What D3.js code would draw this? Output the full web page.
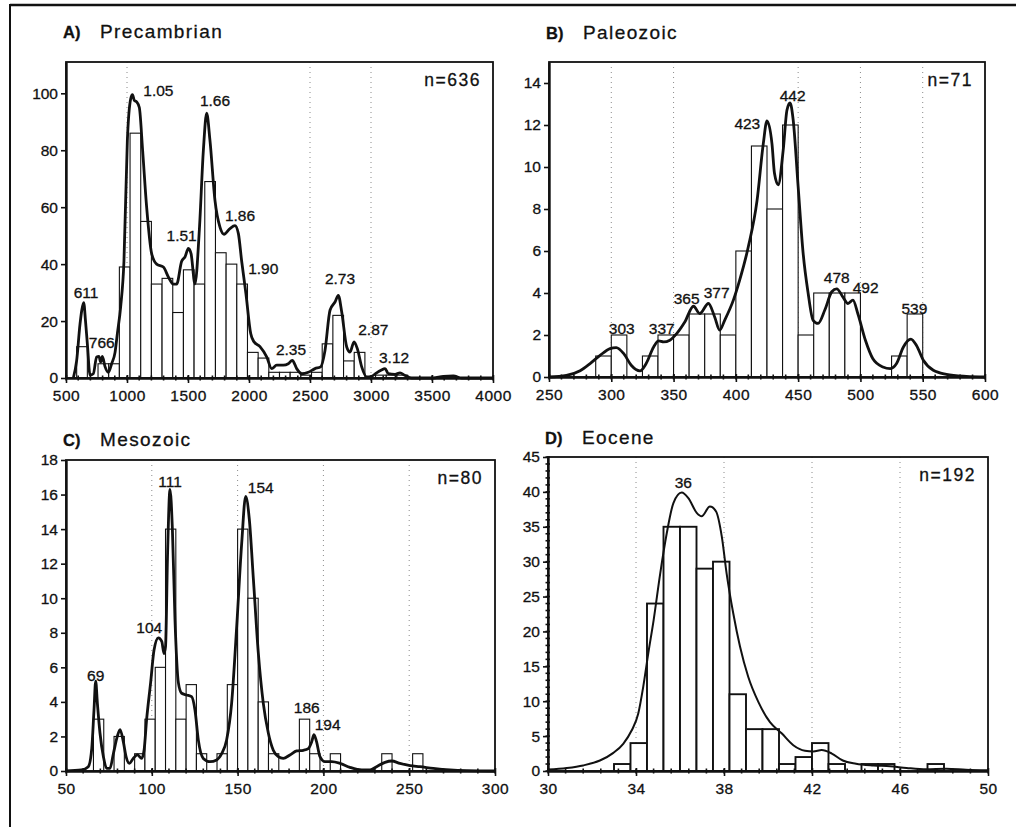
<!DOCTYPE html>
<html>
<head>
<meta charset="utf-8">
<script src="https://cdn.jsdelivr.net/npm/d3@7"></script>
<style>
  html, body { margin: 0; padding: 0; background: #fff; }
  svg { display: block; }
  text { font-family: "Liberation Sans", Arial, Helvetica, sans-serif; fill: #111; stroke: #111; stroke-width: 0.3px; }
</style>
</head>
<body>
<svg id="chart" width="1016" height="827"></svg>
<script>
// ---------- A) Precambrian : histogram (87.5 Myr bins from 500 Ma) + probability curve ----------
const precambrianBinStart = 500;
const precambrianBinWidth = 87.5;
const precambrianCounts = [0, 11, 0, 5, 5, 39, 86, 55, 33, 35,
                           23, 38, 33, 69, 44, 40, 33, 9, 7, 2,
                           2, 2, 1, 2, 12, 22, 6, 9, 0, 1,
                           1, 1, 0, 0, 0, 0, 0, 0, 0, 0];
const precambrianCurve = [
  [560,0],[587,6],[615,19],[630,24],[645,26.5],[660,20],[675,12],[697,1],[724,1.5],[751,7.4],
  [770,7.6],[784,5.6],[798,7.6],[820,4],[847,2],[874,5],[902,9],[921,15.6],[948,25],[975,41],
  [1003,83.5],[1030,98],[1045,99.5],[1060,97.5],[1079,97],[1101,95],[1128,80],[1161,60],[1202,43.7],
  [1243,40],[1298,39],[1339,35.5],[1380,33],[1407,33],[1448,41],[1475,42.5],[1503,45.5],[1525,43.7],
  [1557,33],[1593,52],[1626,80],[1653,93],[1680,83.5],[1721,62.4],[1762,53],[1795,50.5],[1844,52.5],
  [1885,53.5],[1913,50.7],[1940,41],[1975,29.6],[2014,15.6],[2041,12.7],[2090,11],[2145,7.4],
  [2186,3.3],[2227,4.5],[2281,4.5],[2322,5],[2355,6.2],[2391,3.3],[2432,1.5],[2486,2],[2541,3.3],
  [2587,3.9],[2623,9.7],[2664,23.8],[2705,26.7],[2732,29],[2760,23.2],[2801,10.9],[2828,9.1],
  [2861,12.7],[2888,10.3],[2924,3.9],[2964,0.4],[3005,0.6],[3046,1.8],[3082,2.7],[3115,3.3],
  [3142,1.5],[3197,1.3],[3238,1.8],[3279,0.9],[3333,0],[3511,0],[3593,0.6],[3675,0.7],[3743,0],[4000,0]
];
const precambrianPeaks = [
  ["611", 664, 28], ["766", 793, 10.4], ["1.05", 1257, 99], ["1.51", 1448, 48],
  ["1.66", 1721, 95.5], ["1.86", 1926, 55], ["1.90", 2117, 36.7], ["2.35", 2344, 8],
  ["2.73", 2746, 33], ["2.87", 3019, 15], ["3.12", 3189, 5.3]
];
const precambrianXTicks = [500, 1000, 1500, 2000, 2500, 3000, 3500, 4000];
const precambrianYTicks = [0, 20, 40, 60, 80, 100];
const precambrianGrid = [1000, 2500, 3000];

// ---------- B) Paleozoic : 12.5 Myr bins from 287.5 Ma ----------
const paleozoicBinStart = 287.5;
const paleozoicBinWidth = 12.5;
const paleozoicCounts = [1, 2, 0, 1, 2, 2, 3, 3, 2, 6, 11, 8, 12, 2, 4, 4, 4, 0, 0, 1, 3];
const paleozoicCurve = [
  [250,0],[264,0.08],[275,0.3],[283,0.64],[291,1.03],[299,1.35],[304,1.4],[310,1.11],[316,0.56],
  [323,0.29],[328,0.64],[334,1.43],[338,1.72],[342,1.67],[347,1.75],[352.5,2.07],[359,2.62],
  [366,3.37],[371,3.02],[378,3.5],[383,2.86],[387,2.23],[391,2.7],[398,3.66],[403,4.6],[410,6.2],
  [417,8.4],[422,11.1],[425,12.2],[429,11.1],[431,9.7],[434,9.15],[438,10.8],[441,12.7],[443.5,13.05],
  [446,12.25],[450,9.07],[454,5.9],[458,4.0],[462,2.7],[466,2.55],[471.5,3.2],[477,4.06],[481,4.2],
  [486,3.8],[490,3.5],[494,3.66],[498,3.0],[504,1.75],[510,0.87],[518,0.48],[524,0.4],[529,0.64],
  [534.5,1.43],[540.5,1.8],[545,1.5],[550.5,0.8],[558.5,0.32],[569,0.13],[585,0.03],[600,0]
];
const paleozoicPeaks = [
  ["303", 308.4, 2.05], ["337", 340.5, 2.05], ["365", 360.5, 3.48], ["377", 384.6, 3.75],
  ["423", 409.2, 11.8], ["442", 445.6, 13.16], ["478", 481, 4.5], ["492", 504.2, 3.98], ["539", 543.3, 3.0]
];
const paleozoicXTicks = [250, 300, 350, 400, 450, 500, 550, 600];
const paleozoicYTicks = [0, 2, 4, 6, 8, 10, 12, 14];
const paleozoicGrid = [300, 350, 450, 500, 550];

// ---------- C) Mesozoic : 6 Myr bins from 66 Ma ----------
const mesozoicBinStart = 66;
const mesozoicBinWidth = 6;
const mesozoicCounts = [3, 0, 2, 0, 1, 3, 6, 14, 3, 5, 1, 0, 1, 5, 14, 10, 4, 1, 0, 0,
                        3, 1, 0, 1, 0, 0, 0, 0, 1, 0, 0, 1];
const mesozoicCurve = [
  [50,0],[59,0.06],[63,0.25],[65,1.3],[66.3,3.5],[67.3,5.2],[68.3,3.9],[69.8,2.2],[71.8,0.83],
  [73.7,0.15],[75.6,0.15],[77.6,1.0],[79.9,2.0],[81.5,2.4],[83.4,1.7],[85,0.83],[86.9,0.44],
  [89.2,0.73],[91.6,0.93],[94.1,0.73],[95.5,1.2],[97,3.0],[99.3,5.1],[101.3,7.0],[103.8,7.7],
  [105.8,7.5],[107.1,6.8],[108,7.2],[109.2,12.6],[110.6,16.3],[112,14],[113.5,8.8],[115.5,5.1],
  [117.4,4.5],[120.3,4.4],[123.2,4.3],[125.2,3.5],[127.1,1.8],[130,0.73],[133.9,0.54],[137.8,0.64],
  [140.7,1.0],[143.6,1.8],[146.5,3.9],[149.5,8.4],[152.4,13.2],[154.7,15.9],[156.8,14.6],[159.2,11.1],
  [162.1,6.8],[165,3.9],[167.9,2.2],[170.8,1.2],[173.7,0.83],[176.6,0.73],[180.5,0.93],[184.4,1.16],
  [188.3,1.2],[191.2,1.3],[193.2,1.7],[194.5,2.1],[196,1.7],[198,0.83],[200.9,0.54],[204.8,0.54],
  [209.7,0.44],[215.5,0.21],[222.3,0.06],[227.2,0.06],[231,0.25],[235.9,0.5],[239.8,0.58],[244.6,0.44],
  [250.5,0.31],[256.3,0.25],[264,0.15],[273.8,0.06],[283.5,0.02],[300,0]
];
const mesozoicPeaks = [
  ["69", 67.3, 5.2], ["104", 98.5, 8.0], ["111", 110.6, 16.45], ["154", 163.5, 16.1],
  ["186", 190.3, 3.34], ["194", 202.5, 2.37]
];
const mesozoicXTicks = [50, 100, 150, 200, 250, 300];
const mesozoicYTicks = [0, 2, 4, 6, 8, 10, 12, 14, 16, 18];
const mesozoicGrid = [100, 150, 200, 250];

// ---------- D) Eocene : 0.75 Myr bins from 33 Ma ----------
const eoceneBinStart = 33;
const eoceneBinWidth = 0.75;
const eoceneCounts = [1, 4, 24, 35, 35, 29, 30, 11, 6, 6, 1, 2, 4, 1, 0, 1, 1, 0, 0, 1];
const eoceneCurve = [
  [30,0.2],[30.85,0.43],[31.6,0.8],[32.36,1.5],[32.97,2.6],[33.42,3.9],[33.8,5.8],[34.1,8.2],
  [34.33,12.1],[34.56,16.9],[34.8,21.6],[35.1,28.3],[35.4,34.1],[35.7,38.4],[36.08,39.9],[36.38,39.1],
  [36.76,37.0],[36.98,36.5],[37.36,37.9],[37.64,37.2],[37.9,33.6],[38.12,28.3],[38.42,22.6],
  [38.73,17.8],[39.1,13.5],[39.56,9.9],[40.09,7.0],[40.62,5.4],[41.15,3.7],[41.68,2.9],[42.06,2.8],
  [42.44,3.0],[42.9,2.5],[43.4,1.5],[44.0,1.05],[44.8,0.8],[45.55,0.67],[46.3,0.43],[47.2,0.24],
  [48.1,0.33],[49.0,0.19],[50,0.1]
];
const eocenePeaks = [["36", 36.15, 40.5]];
const eoceneXTicks = [30, 34, 38, 42, 46, 50];
const eoceneYTicks = [0, 5, 10, 15, 20, 25, 30, 35, 40, 45];
const eoceneGrid = [34, 38, 42, 46];

// ---------- panel layout ----------
const panels = [
  { letter: "A)", name: "Precambrian", n: "n=636",
    binStart: precambrianBinStart, binWidth: precambrianBinWidth, counts: precambrianCounts,
    curve: precambrianCurve, peaks: precambrianPeaks, xTicks: precambrianXTicks, yTicks: precambrianYTicks,
    grid: precambrianGrid, xDomain: [500, 4000], yDomain: [0, 111], xMinor: 100, yMinor: null,
    box: { left: 66, right: 493, top: 62, bottom: 378 }, titleY: 38, curveWidth: 2.8, barStroke: 1.1 },
  { letter: "B)", name: "Paleozoic", n: "n=71",
    binStart: paleozoicBinStart, binWidth: paleozoicBinWidth, counts: paleozoicCounts,
    curve: paleozoicCurve, peaks: paleozoicPeaks, xTicks: paleozoicXTicks, yTicks: paleozoicYTicks,
    grid: paleozoicGrid, xDomain: [250, 600], yDomain: [0, 15], xMinor: 10, yMinor: null,
    box: { left: 549, right: 985, top: 62, bottom: 377 }, titleY: 39, curveWidth: 2.8, barStroke: 1.1 },
  { letter: "C)", name: "Mesozoic", n: "n=80",
    binStart: mesozoicBinStart, binWidth: mesozoicBinWidth, counts: mesozoicCounts,
    curve: mesozoicCurve, peaks: mesozoicPeaks, xTicks: mesozoicXTicks, yTicks: mesozoicYTicks,
    grid: mesozoicGrid, xDomain: [50, 300], yDomain: [0, 18], xMinor: 10, yMinor: null,
    box: { left: 66, right: 495, top: 460, bottom: 771 }, titleY: 446, curveWidth: 2.8, barStroke: 1.1 },
  { letter: "D)", name: "Eocene", n: "n=192",
    binStart: eoceneBinStart, binWidth: eoceneBinWidth, counts: eoceneCounts,
    curve: eoceneCurve, peaks: eocenePeaks, xTicks: eoceneXTicks, yTicks: eoceneYTicks,
    grid: eoceneGrid, xDomain: [30, 50], yDomain: [0, 45], xMinor: 0.8, yMinor: 1,
    box: { left: 548, right: 988, top: 457, bottom: 771 }, titleY: 444, curveWidth: 2.0, barStroke: 1.9 }
];

const svg = d3.select("#chart");

// outer figure border (top and left edges)
svg.append("line").attr("x1", 10).attr("x2", 1016).attr("y1", 5).attr("y2", 5)
  .attr("stroke", "#111").attr("stroke-width", 2.5);
svg.append("line").attr("x1", 10).attr("x2", 10).attr("y1", 4).attr("y2", 827)
  .attr("stroke", "#111").attr("stroke-width", 2);

function drawPanel(p) {
  const b = p.box;
  const g = svg.append("g");
  const x = d3.scaleLinear().domain(p.xDomain).range([b.left, b.right]);
  const y = d3.scaleLinear().domain(p.yDomain).range([b.bottom, b.top]);

  // dotted vertical guide lines
  g.append("g").selectAll("line").data(p.grid).join("line")
    .attr("x1", d => x(d)).attr("x2", d => x(d))
    .attr("y1", b.top).attr("y2", b.bottom)
    .attr("stroke", "#8a8a8a").attr("stroke-width", 1).attr("stroke-dasharray", "1,4");

  // histogram bars
  const bins = p.counts.map((c, i) => ({ x0: p.binStart + i * p.binWidth, x1: p.binStart + (i + 1) * p.binWidth, c }))
    .filter(d => d.c > 0);
  g.append("g").selectAll("rect").data(bins).join("rect")
    .attr("x", d => x(d.x0)).attr("width", d => x(d.x1) - x(d.x0))
    .attr("y", d => y(d.c)).attr("height", d => y(0) - y(d.c))
    .attr("fill", "#fff").attr("stroke", "#111").attr("stroke-width", p.barStroke);

  // probability density curve
  const line = d3.line().x(d => x(d[0])).y(d => y(d[1])).curve(d3.curveMonotoneX);
  g.append("path").datum(p.curve).attr("d", line)
    .attr("fill", "none").attr("stroke", "#111").attr("stroke-width", p.curveWidth)
    .attr("stroke-linejoin", "round");

  // plot frame
  g.append("rect").attr("x", b.left).attr("y", b.top)
    .attr("width", b.right - b.left).attr("height", b.bottom - b.top)
    .attr("fill", "none").attr("stroke", "#111").attr("stroke-width", 1.8);

  // x axis
  const xAxis = g.append("g").attr("transform", `translate(0,${b.bottom})`)
    .call(d3.axisBottom(x).tickValues(p.xTicks).tickSize(5).tickSizeOuter(0).tickFormat(d3.format("d")));
  xAxis.select(".domain").attr("stroke", "#111").attr("stroke-width", 2.4);
  xAxis.selectAll(".tick line").attr("stroke", "#111").attr("stroke-width", 1.6).attr("y1", -3);
  xAxis.selectAll(".tick text").attr("font-size", 15.5).attr("dy", "0.95em").attr("letter-spacing", 0.5)
    .attr("font-family", "'Liberation Sans', Arial, sans-serif").attr("fill", "#111");

  // x minor ticks
  const xMinor = d3.range(p.xDomain[0], p.xDomain[1] + 1e-9, p.xMinor);
  g.append("g").selectAll("line").data(xMinor).join("line")
    .attr("x1", d => x(d)).attr("x2", d => x(d))
    .attr("y1", b.bottom - 2.5).attr("y2", b.bottom + 2.5)
    .attr("stroke", "#111").attr("stroke-width", 1.6);

  // y axis
  const yAxis = g.append("g").attr("transform", `translate(${b.left},0)`)
    .call(d3.axisLeft(y).tickValues(p.yTicks).tickSize(5).tickSizeOuter(0).tickFormat(d3.format("d")));
  yAxis.select(".domain").attr("stroke", "#111").attr("stroke-width", 2.4);
  yAxis.selectAll(".tick line").attr("stroke", "#111").attr("stroke-width", 1.6);
  yAxis.selectAll(".tick text").attr("font-size", 15.5).attr("x", -8)
    .attr("font-family", "'Liberation Sans', Arial, sans-serif").attr("fill", "#111");

  if (p.yMinor) {
    const yMinor = d3.range(p.yDomain[0], p.yDomain[1] + 1e-9, p.yMinor);
    g.append("g").selectAll("line").data(yMinor).join("line")
      .attr("x1", b.left - 2.5).attr("x2", b.left + 2)
      .attr("y1", d => y(d)).attr("y2", d => y(d))
      .attr("stroke", "#111").attr("stroke-width", 1.6);
  }

  // peak age labels
  g.append("g").selectAll("text").data(p.peaks).join("text")
    .attr("x", d => x(d[1])).attr("y", d => y(d[2]))
    .attr("text-anchor", "middle").attr("font-size", 15.5)
    .text(d => d[0]);

  // sample count
  g.append("text").attr("x", b.right - 12).attr("y", b.top + 24)
    .attr("text-anchor", "end").attr("font-size", 17.5).attr("letter-spacing", 1.5)
    .text(p.n);

  // panel title
  g.append("text").attr("x", b.left - 3).attr("y", p.titleY)
    .attr("font-size", 16.5).attr("font-weight", "bold").text(p.letter);
  g.append("text").attr("x", b.left + 34).attr("y", p.titleY)
    .attr("font-size", 19).attr("letter-spacing", 1.4).text(p.name);
}

panels.forEach(drawPanel);
</script>
</body>
</html>
